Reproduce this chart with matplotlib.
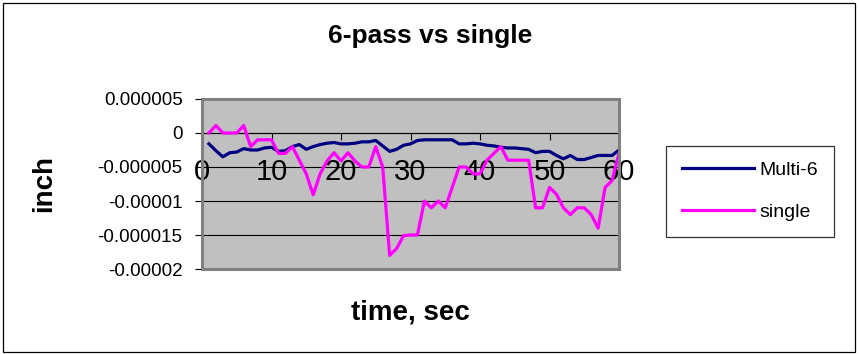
import matplotlib
matplotlib.use("Agg")
import matplotlib.pyplot as plt
from matplotlib.patches import Rectangle
from matplotlib.lines import Line2D

# ---- data ----
time_sec = list(range(1, 61))
multi6 = [-1.6e-6, -2.6e-6, -3.5e-6, -2.9e-6, -2.8e-6, -2.3e-6, -2.5e-6, -2.5e-6, -2.2e-6, -2.1e-6,
          -2.7e-6, -2.6e-6, -2.0e-6, -1.7e-6, -2.4e-6, -2.0e-6, -1.7e-6, -1.5e-6, -1.4e-6, -1.6e-6,
          -1.6e-6, -1.5e-6, -1.3e-6, -1.3e-6, -1.1e-6, -1.9e-6, -2.7e-6, -2.4e-6, -1.8e-6, -1.6e-6,
          -1.1e-6, -1.0e-6, -1.0e-6, -1.0e-6, -1.0e-6, -1.0e-6, -1.6e-6, -1.6e-6, -1.5e-6, -1.6e-6,
          -1.8e-6, -1.9e-6, -2.1e-6, -2.2e-6, -2.2e-6, -2.3e-6, -2.4e-6, -2.9e-6, -2.7e-6, -2.7e-6,
          -3.3e-6, -3.8e-6, -3.3e-6, -3.9e-6, -3.9e-6, -3.6e-6, -3.3e-6, -3.3e-6, -3.3e-6, -2.5e-6]
single = [0.0, 1.1e-6, 0.0, 0.0, 0.0, 1.1e-6, -2.0e-6, -1.0e-6, -1.0e-6, -1.0e-6,
          -3.0e-6, -3.0e-6, -2.0e-6, -4.0e-6, -6.0e-6, -9.1e-6, -6.0e-6, -4.1e-6, -2.9e-6, -4.1e-6,
          -2.9e-6, -4.1e-6, -5.0e-6, -5.0e-6, -2.0e-6, -5.0e-6, -18.0e-6, -17.0e-6, -15.1e-6, -15.0e-6,
          -15.0e-6, -10.0e-6, -11.0e-6, -10.0e-6, -11.0e-6, -8.0e-6, -5.0e-6, -5.0e-6, -6.0e-6, -6.0e-6,
          -4.0e-6, -3.0e-6, -2.0e-6, -4.0e-6, -4.0e-6, -4.0e-6, -4.0e-6, -11.0e-6, -11.0e-6, -8.0e-6,
          -9.0e-6, -11.0e-6, -12.0e-6, -11.0e-6, -11.0e-6, -12.0e-6, -14.0e-6, -8.0e-6, -7.0e-6, -3.0e-6]
series_names = ["Multi-6", "single"]
xticks = [0, 10, 20, 30, 40, 50, 60]
yticks = [0.000005, 0, -0.000005, -0.00001, -0.000015, -0.00002]
ytick_labels = ["0.000005", "0", "-0.000005", "-0.00001", "-0.000015", "-0.00002"]
title = "6-pass vs single"
xlabel = "time, sec"
ylabel = "inch"

plt.rcParams['font.family'] = ['Liberation Sans', 'DejaVu Sans']

W, H = 859, 354
fig = plt.figure(figsize=(W / 100, H / 100), dpi=100)
fig.patch.set_facecolor("white")

# outer border
fig.patches.append(Rectangle((2.5 / W, 2.5 / H), 852 / W, 348.5 / H, transform=fig.transFigure,
                             fill=False, edgecolor="black", linewidth=0.9))

L, R, T, B = 202, 619, 99, 269
ax = fig.add_axes([L / W, (H - B) / H, (R - L) / W, (B - T) / H])
ax.set_facecolor("#C0C0C0")

ax.plot(time_sec, multi6, color="#000080", linewidth=2.3, label=series_names[0], zorder=3)
ax.plot(time_sec, single, color="#FF00FF", linewidth=2.3, label=series_names[1], zorder=4)

ax.set_xlim(0, 60)
ax.set_ylim(-0.00002, 0.000005)
ax.set_xticks(xticks)
ax.set_yticks(yticks, ytick_labels)

for y in yticks:
    ax.axhline(y, color="black", linewidth=0.8, zorder=1)

for s in ["top", "right"]:
    ax.spines[s].set_visible(False)
ax.spines["bottom"].set_position(("data", 0))
ax.spines["bottom"].set_color("black")
ax.spines["bottom"].set_linewidth(0.8)
ax.spines["left"].set_color("black")
ax.spines["left"].set_linewidth(0.8)

# gray plot-area frame
ax.add_patch(Rectangle((0, 0), 1, 1, transform=ax.transAxes, fill=False,
                       edgecolor="#808080", linewidth=2.2, clip_on=False, zorder=5))

ax.tick_params(axis="x", direction="out", length=5, width=0.8, pad=13, labelsize=21)
ax.tick_params(axis="y", direction="out", length=5, width=0.8, pad=9, labelsize=13.5)

ax.set_title(title, fontsize=19, fontweight="bold", x=(430 - L) / (R - L), y=(B - 36) / (B - T),
             va="center", pad=0)
ax.set_xlabel(xlabel, fontsize=20, fontweight="bold", va="center")
ax.xaxis.set_label_coords((410 - L) / (R - L), (B - 312) / (B - T))
ax.set_ylabel(ylabel, fontsize=20, fontweight="bold", va="center")
ax.yaxis.set_label_coords((44 - L) / (R - L), (B - 183) / (B - T))

handles = [Line2D([], [], color="#000080", linewidth=2.3), Line2D([], [], color="#FF00FF", linewidth=2.3)]
leg = fig.legend(handles, series_names, loc="upper left", bbox_to_anchor=(666 / W, (H - 146) / H),
                 fontsize=14, frameon=True, fancybox=False, shadow=False, borderaxespad=0,
                 borderpad=0.8, handlelength=3.7, handletextpad=0.3, labelspacing=1.25)
leg.get_frame().set_edgecolor("black")
leg.get_frame().set_linewidth(0.9)

fig.savefig("out.png", dpi=100)
